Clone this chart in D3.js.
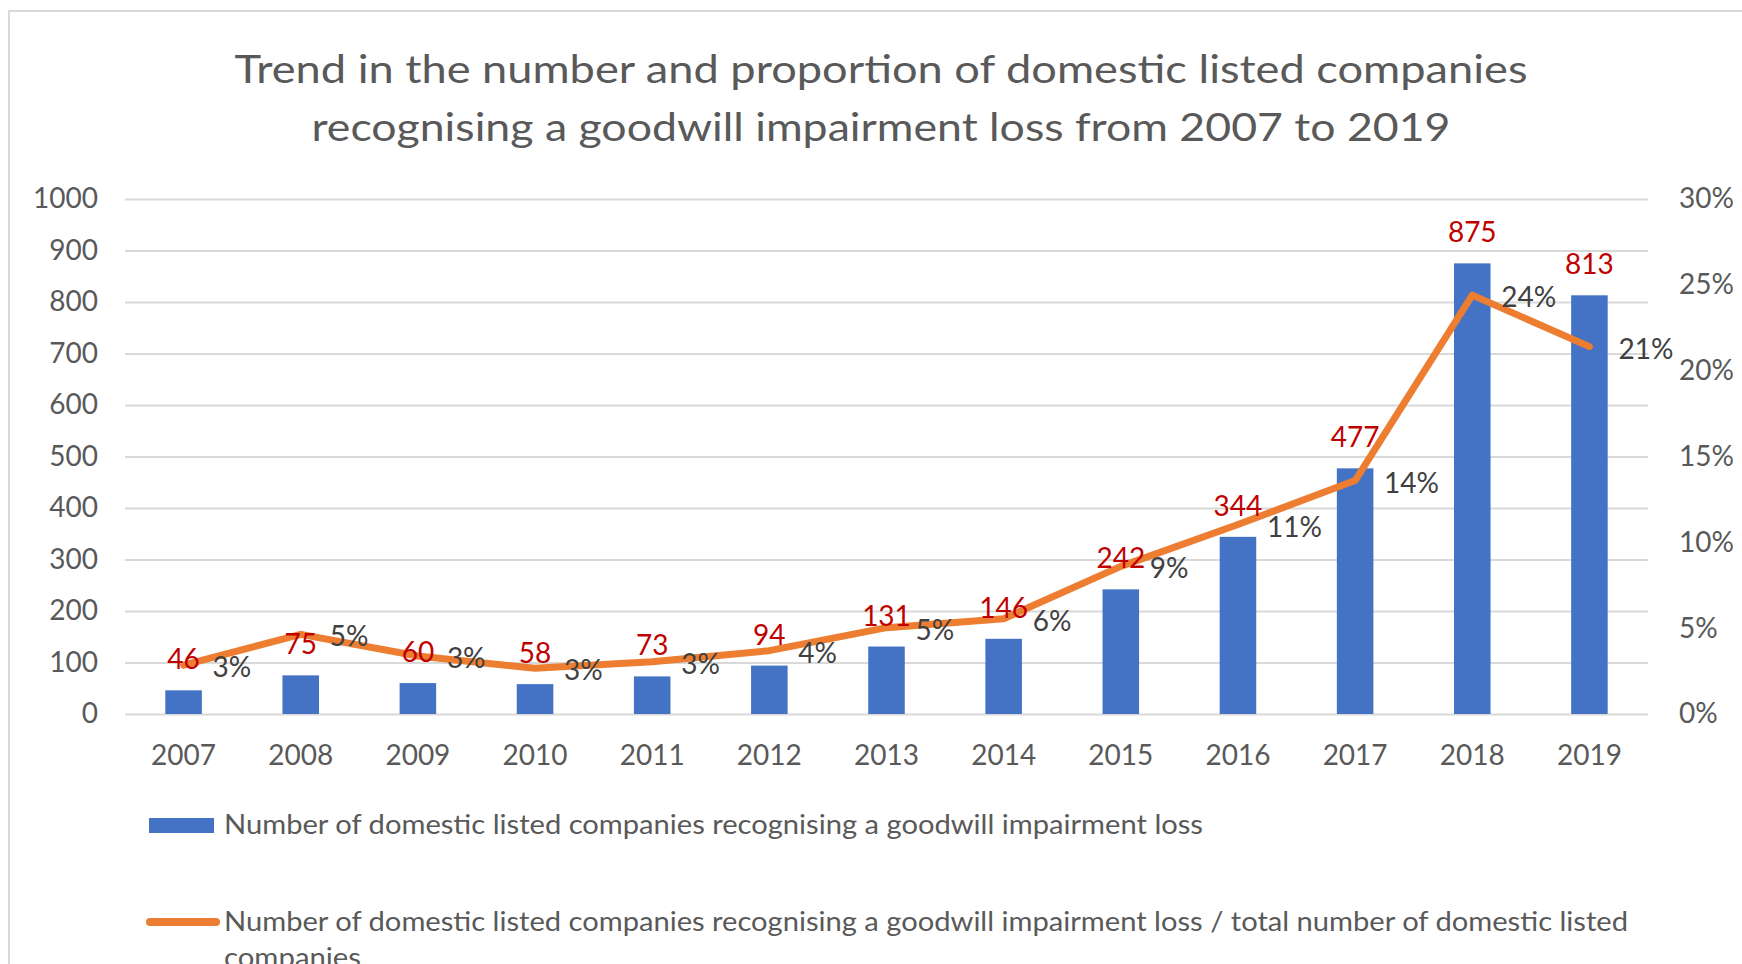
<!DOCTYPE html>
<html>
<head>
<meta charset="utf-8">
<script src="https://cdn.jsdelivr.net/npm/d3@7"></script>
<style>
  html, body { margin: 0; padding: 0; background: #ffffff; }
  svg { display: block; }
  text { font-family: Lato, "Open Sans", sans-serif; }
</style>
</head>
<body>
<svg id="chart" width="1742" height="964"></svg>
<script>
// Goodwill impairment recognition by domestic listed companies, 2007–2019
const years = ["2007", "2008", "2009", "2010", "2011", "2012", "2013",
               "2014", "2015", "2016", "2017", "2018", "2019"];
const companyCounts = [46, 75, 60, 58, 73, 94, 131, 146, 242, 344, 477, 875, 813];
const shareOfListed = [0.0285, 0.0464, 0.0338, 0.0266, 0.0305, 0.0369, 0.0503,
                       0.0555, 0.0860, 0.1104, 0.1360, 0.2440, 0.2140];
const countTicks = [0, 100, 200, 300, 400, 500, 600, 700, 800, 900, 1000];
const shareTicks = [0, 0.05, 0.10, 0.15, 0.20, 0.25, 0.30];
const titleLines = [
  "Trend in the number and proportion of domestic listed companies",
  "recognising a goodwill impairment loss from 2007 to 2019"
];
const legendBarLabel = "Number of domestic listed companies recognising a goodwill impairment loss";
const legendLineLabel = [
  "Number of domestic listed companies recognising a goodwill impairment loss / total number of domestic listed",
  "companies"
];

const svg = d3.select("#chart");
const plot = { left: 125, right: 1648, top: 199, bottom: 714 };

const BLUE = "#4472C4", ORANGE = "#ED7D31", GRID = "#d9d9d9",
      AXIS_TEXT = "#595959", COUNT_TEXT = "#C00000", SHARE_TEXT = "#404040";

// stretch a text run to a set width so the wide title/legend face is kept
function fitWidth(sel, widths) {
  sel.attr("textLength", (d, i) => widths[i]).attr("lengthAdjust", "spacingAndGlyphs");
}

// chart frame
svg.append("rect")
  .attr("x", 9).attr("y", 11)
  .attr("width", 1800).attr("height", 1000)
  .attr("fill", "#ffffff").attr("stroke", GRID).attr("stroke-width", 2);

// scales
const x = d3.scaleBand().domain(years).range([plot.left, plot.right]).padding(0);
const yCount = d3.scaleLinear().domain([0, 1000]).range([plot.bottom, plot.top]);
const yShare = d3.scaleLinear().domain([0, 0.30]).range([plot.bottom, plot.top]);
const cx = d => x(d) + x.bandwidth() / 2;
const barW = x.bandwidth() * 0.312;

// title
svg.append("g").selectAll("text").data(titleLines).join("text")
  .attr("x", 881)
  .attr("y", (d, i) => 69 + i * 58)
  .attr("dy", "0.36em")
  .attr("text-anchor", "middle")
  .attr("font-size", 39)
  .attr("fill", AXIS_TEXT)
  .text(d => d)
  .call(fitWidth, [1293, 1139]);

// left axis with horizontal gridlines
const leftAxis = svg.append("g")
  .attr("transform", `translate(${plot.left},0)`)
  .call(d3.axisLeft(yCount).tickValues(countTicks)
    .tickSize(-(plot.right - plot.left)).tickPadding(27).tickFormat(d3.format("d")));
leftAxis.select(".domain").remove();
leftAxis.selectAll(".tick line").attr("stroke", GRID).attr("stroke-width", 2);
leftAxis.selectAll(".tick text")
  .attr("font-size", 28).attr("fill", AXIS_TEXT).attr("font-family", "Lato");

// right axis (share)
const rightAxis = svg.append("g")
  .attr("transform", `translate(${plot.right},0)`)
  .call(d3.axisRight(yShare).tickValues(shareTicks)
    .tickSize(0).tickPadding(31).tickFormat(d3.format(".0%")));
rightAxis.select(".domain").remove();
rightAxis.selectAll(".tick text")
  .attr("font-size", 28).attr("fill", AXIS_TEXT).attr("font-family", "Lato");

// bottom axis (years)
const bottomAxis = svg.append("g")
  .attr("transform", `translate(0,${plot.bottom})`)
  .call(d3.axisBottom(x).tickSize(0).tickPadding(31));
bottomAxis.select(".domain").remove();
bottomAxis.selectAll(".tick text")
  .attr("font-size", 28).attr("fill", AXIS_TEXT).attr("font-family", "Lato");

// bars
svg.append("g").selectAll("rect")
  .data(years.map((yr, i) => ({ yr, v: companyCounts[i] })))
  .join("rect")
  .attr("x", d => cx(d.yr) - barW / 2)
  .attr("y", d => yCount(d.v))
  .attr("width", barW)
  .attr("height", d => yCount(0) - yCount(d.v))
  .attr("fill", BLUE);

// share line
const sharePts = years.map((yr, i) => ({ yr, v: shareOfListed[i] }));
svg.append("path")
  .datum(sharePts)
  .attr("fill", "none")
  .attr("stroke", ORANGE)
  .attr("stroke-width", 7)
  .attr("stroke-linejoin", "round")
  .attr("stroke-linecap", "round")
  .attr("d", d3.line().x(d => cx(d.yr)).y(d => yShare(d.v)));

// count labels above bars
svg.append("g").selectAll("text")
  .data(years.map((yr, i) => ({ yr, v: companyCounts[i] })))
  .join("text")
  .attr("x", d => cx(d.yr))
  .attr("y", d => yCount(d.v) - 31)
  .attr("dy", "0.36em")
  .attr("text-anchor", "middle")
  .attr("font-size", 28)
  .attr("fill", COUNT_TEXT)
  .text(d => d.v);

// share labels right of line points
svg.append("g").selectAll("text")
  .data(sharePts)
  .join("text")
  .attr("x", d => cx(d.yr) + 29)
  .attr("y", d => yShare(d.v) + 2)
  .attr("dy", "0.36em")
  .attr("text-anchor", "start")
  .attr("font-size", 28)
  .attr("fill", SHARE_TEXT)
  .text(d => d3.format(".0%")(d.v));

// legend
const legend = svg.append("g");
legend.append("rect")
  .attr("x", 149).attr("y", 818).attr("width", 65).attr("height", 15)
  .attr("fill", BLUE);
legend.append("text")
  .attr("x", 224).attr("y", 825).attr("dy", "0.36em")
  .attr("font-size", 26).attr("fill", AXIS_TEXT)
  .text(legendBarLabel)
  .call(fitWidth, [979]);
legend.append("line")
  .attr("x1", 150).attr("x2", 216).attr("y1", 922).attr("y2", 922)
  .attr("stroke", ORANGE).attr("stroke-width", 8).attr("stroke-linecap", "round");
legend.append("g").selectAll("text").data(legendLineLabel).join("text")
  .attr("x", 224)
  .attr("y", (d, i) => 922 + i * 36)
  .attr("dy", "0.36em")
  .attr("font-size", 26).attr("fill", AXIS_TEXT)
  .text(d => d)
  .call(fitWidth, [1404, 137]);
</script>
</body>
</html>
